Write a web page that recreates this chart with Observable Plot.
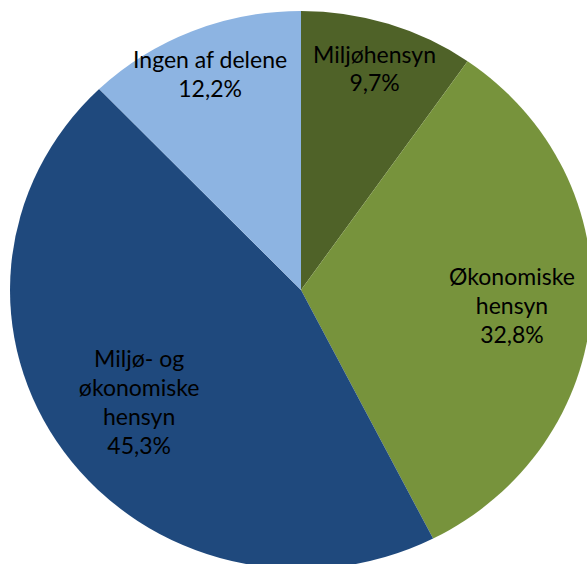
<!DOCTYPE html>
<html>
<head>
<meta charset="utf-8">
<script src="https://cdn.jsdelivr.net/npm/d3@7"></script>
<script src="https://cdn.jsdelivr.net/npm/@observablehq/plot@0.6"></script>
<style>
  html, body { margin: 0; padding: 0; background: #fff; }
  #chart svg { display: block; }
</style>
</head>
<body>
<div id="chart"></div>
<script>
// Data (clockwise from 12 o'clock)
const categories = ["Miljøhensyn", "Økonomiske hensyn", "Miljø- og økonomiske hensyn", "Ingen af delene"];
const labelLines = [["Miljøhensyn"], ["Økonomiske", "hensyn"], ["Miljø- og", "økonomiske", "hensyn"], ["Ingen af delene"]];
const shares = [9.7, 32.8, 45.3, 12.2];
const colors = ["#4F6228", "#77933C", "#1F497D", "#8DB4E2"];

// Layout
const W = 587, H = 564;
const CX = 301, CY = 290, RX = 291, RY = 279;
const labelRadius = [0.837, 0.725, 0.685, 0.84];

const pie = d3.pie().sort(null).value(d => d.share);
const rows = categories.map((c, i) => ({cat: c, share: shares[i], color: colors[i], lines: labelLines[i]}));
const arcs = pie(rows);

const labels = arcs.map((a, i) => {
  const mid = (a.startAngle + a.endAngle) / 2;
  const f = labelRadius[i];
  return {
    x: CX + RX * f * Math.sin(mid),
    y: CY - RY * f * Math.cos(mid),
    text: a.data.lines.join("\n") + "\n" + a.data.share.toFixed(1).replace(".", ",") + "%"
  };
});

function slices(index, scales) {
  const g = d3.create("svg:g");
  const cx = scales.x(CX), cy = scales.y(CY);
  const arcGen = d3.arc().innerRadius(0).outerRadius(RY);
  g.attr("transform", `translate(${cx},${cy}) scale(${RX / RY},1)`)
    .selectAll("path")
    .data(arcs)
    .join("path")
    .attr("d", arcGen)
    .attr("fill", d => d.data.color);
  return g.node();
}

const chart = Plot.plot({
  width: W,
  height: H,
  margin: 0,
  x: {type: "linear", domain: [0, W], range: [0, W], axis: null},
  y: {type: "linear", domain: [0, H], range: [0, H], axis: null},
  style: {background: "#fff", overflow: "hidden"},
  marks: [
    slices,
    Plot.text(labels, {
      x: "x", y: "y", text: "text",
      fill: "#000",
      fontSize: 23,
      fontFamily: "Lato",
      fontWeight: 400,
      lineHeight: 1.26,
      textAnchor: "middle"
    })
  ]
});
document.getElementById("chart").appendChild(chart);
</script>
</body>
</html>
